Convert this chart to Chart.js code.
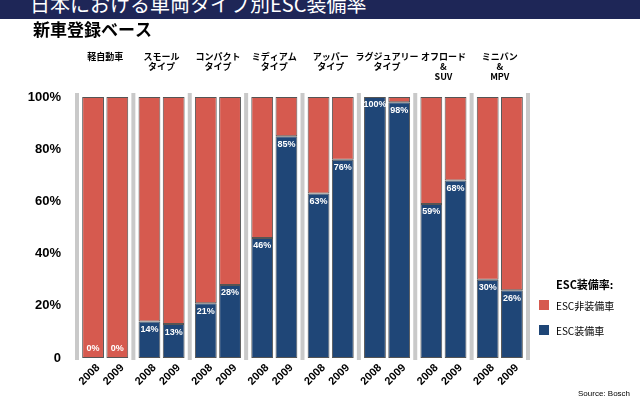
<!DOCTYPE html>
<html><head><meta charset="utf-8">
<script src="https://cdn.jsdelivr.net/npm/chart.js@4"></script>
<style>
body{margin:0;width:640px;height:400px;overflow:hidden;background:#fff;font-family:"Noto Sans CJK JP",sans-serif;position:relative}
#ban{position:absolute;left:0;top:0;width:640px;height:19px;background:#1e2657;color:#fff;font-size:20px;line-height:0px;padding-left:30px;overflow:hidden;box-sizing:border-box}
#wrap{position:absolute;left:0;top:0;width:640px;height:400px}
</style></head><body>
<div id="wrap"><canvas id="c" width="640" height="400"></canvas></div>
<div id="ban"><span style="position:relative;top:4px">日本における車両タイプ別ESC装備率</span></div>
<script>
const categories=["軽自動車","スモール\nタイプ","コンパクト\nタイプ","ミディアム\nタイプ","アッパー\nタイプ","ラグジュアリー\nタイプ","オフロード\n&\nSUV","ミニバン\n&\nMPV"];
const years=["2008","2009"];
const esc2008=[0,14,21,46,63,100,59,30];
const esc2009=[0,13,28,85,76,98,68,26];
const non2008=esc2008.map(v=>100-v);
const non2009=esc2009.map(v=>100-v);
const yTicks=[0,20,40,60,80,100];
const RED="#d65a4f",BLUE="#1f4677";

const deco={id:'deco',
beforeDatasetsDraw(ch){const {ctx,chartArea:a,scales:{x}}=ch;ctx.save();
 ctx.strokeStyle="#c9c9c9";ctx.lineWidth=4;
 for(let i=0;i<=categories.length;i++){const px=i<categories.length?x.getPixelForValue(i)-x.width/categories.length/2:x.right;
  ctx.beginPath();ctx.moveTo(px,a.top-4);ctx.lineTo(px,a.bottom+2);ctx.stroke();}
 ctx.restore();},
afterDraw(ch){const {ctx,chartArea:a,scales:{x,y}}=ch;ctx.save();
 ctx.fillStyle="#000";ctx.font="bold 17px 'Noto Sans CJK JP'";ctx.textAlign="left";ctx.textBaseline="alphabetic";
 ctx.fillText("新車登録ベース",33,36);
 ctx.font="bold 9px 'Noto Sans CJK JP'";ctx.textAlign="center";
 categories.forEach((c,i)=>{const cx=x.getPixelForValue(i);const ls=c.split("\n");ls.forEach((l,j)=>ctx.fillText(l,cx,60+j*10));});
 const metas=[ch.getDatasetMeta(0),ch.getDatasetMeta(2)];
 metas.forEach((m,k)=>{const vals=k?esc2009:esc2008;
  m.data.forEach((b,i)=>{
   ctx.save();ctx.translate(b.x+5,a.bottom+8);ctx.rotate(-Math.PI/4);ctx.font="bold 11px Arial";ctx.fillStyle="#000";ctx.textAlign="right";ctx.textBaseline="middle";ctx.fillText(years[k],0,0);ctx.restore();
   ctx.font="bold 9px Arial";ctx.fillStyle="#fff";ctx.textAlign="center";ctx.textBaseline="middle";
   const yy=vals[i]===0?a.bottom-9:y.getPixelForValue(vals[i])+8;
   ctx.fillText(vals[i]+"%",b.x,yy);});});
 ctx.fillStyle="#000";ctx.font="bold 11px 'Noto Sans CJK JP'";ctx.textAlign="left";ctx.textBaseline="middle";
 ctx.fillText("ESC装備率:",556,285);
 ctx.fillStyle=RED;ctx.fillRect(539,300,10,10);ctx.fillStyle=BLUE;ctx.fillRect(539,325,10,10);
 ctx.fillStyle="#000";ctx.font="10px 'Noto Sans CJK JP'";ctx.fillText("ESC非装備車",556,306);ctx.fillText("ESC装備車",556,331);
 ctx.font="8px Arial";ctx.fillText("Source: Bosch",578,394);
 ctx.restore();}};

new Chart(document.getElementById('c'),{type:'bar',
data:{labels:categories,datasets:[
 {label:'ESC装備車 2008',data:esc2008,stack:'a',backgroundColor:BLUE},
 {label:'ESC非装備車 2008',data:non2008,stack:'a',backgroundColor:RED},
 {label:'ESC装備車 2009',data:esc2009,stack:'b',backgroundColor:BLUE},
 {label:'ESC非装備車 2009',data:non2009,stack:'b',backgroundColor:RED}]},
options:{responsive:false,animation:false,
 layout:{padding:{top:97,bottom:34,right:112,left:0}},
 datasets:{bar:{categoryPercentage:0.86,barPercentage:0.9,borderColor:"#555",borderWidth:1,borderSkipped:false}},
 plugins:{legend:{display:false},tooltip:{enabled:false}},
 scales:{x:{stacked:true,ticks:{display:false},grid:{display:false},border:{display:false}},
  y:{stacked:true,min:0,max:100,afterFit(s){s.width=77;},
   afterBuildTicks(s){s.ticks=yTicks.map(v=>({value:v}));},
   ticks:{color:"#000",font:{size:13,weight:'bold',family:'Arial'},callback:v=>v===0?"0":v+"%",padding:8},
   grid:{display:false},border:{display:false}}}},
plugins:[deco]});
</script></body></html>
